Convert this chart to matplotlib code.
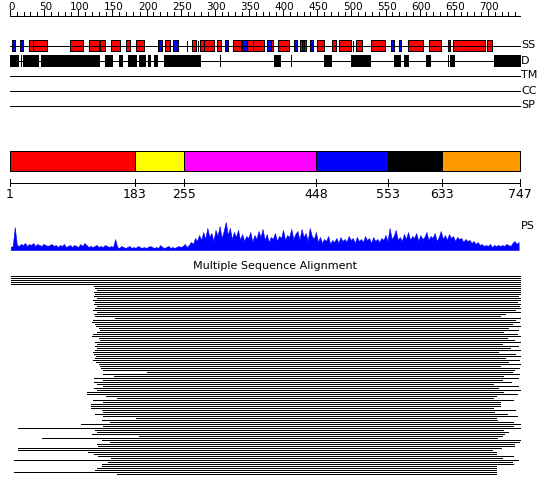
import matplotlib
matplotlib.use("Agg")
import matplotlib.pyplot as plt
import numpy as np

SEQ_LEN = 747

# ---- secondary structure (residue ranges) ----
helix_start = [28, 34, 88, 116, 132, 148, 170, 185, 227, 267, 278, 284, 303, 326, 347, 356,
               382, 393, 425, 430, 449, 471, 482, 507, 529, 583, 614, 649, 699]
helix_end = [33, 54, 107, 130, 139, 161, 176, 196, 234, 272, 284, 299, 309, 338, 356, 372,
             385, 408, 428, 433, 460, 478, 500, 516, 549, 605, 632, 696, 706]
strand_start = [3, 15, 217, 239, 315, 340, 376, 416, 428, 439, 558, 570, 641]
strand_end = [8, 19, 222, 246, 320, 347, 382, 421, 430, 444, 563, 573, 645]
ss_marks = [259, 276, 503]

# ---- disorder ----
disorder_start = [0, 10, 19, 46, 139, 159, 173, 189, 202, 211, 225, 228, 386, 460, 499, 514,
                  562, 577, 610, 644, 709]
disorder_end = [9, 12, 41, 130, 149, 164, 185, 198, 205, 215, 227, 278, 395, 470, 512, 528,
                571, 583, 615, 651, 747]
disorder_marks = [16, 308, 411, 642]

track_names = ["SS", "D", "TM", "CC", "SP"]

# ---- domain boundaries ----
domain_bounds = [1, 183, 255, 448, 553, 633, 747]
domain_colors = ["#ff0000", "#ffff00", "#ff00ff", "#0000ff", "#000000", "#ff9900"]

# ---- PS profile (sampled every 3 residues) ----
ps_pos = np.arange(1, 748, 3)
ps_vals = [3, 4, 23, 5, 4, 6, 5, 7, 4, 6,
           5, 7, 4, 6, 5, 4, 6, 5, 4, 5,
           6, 4, 5, 3, 5, 4, 6, 3, 4, 5,
           3, 5, 4, 3, 6, 4, 7, 5, 3, 4,
           3, 4, 5, 3, 4, 3, 5, 4, 3, 4,
           3, 11, 3, 2, 4, 3, 2, 3, 4, 2,
           3, 2, 4, 3, 2, 3, 2, 3, 4, 3,
           2, 3, 2, 5, 3, 2, 3, 4, 2, 3,
           2, 3, 4, 3, 4, 6, 3, 5, 8, 6,
           12, 9, 15, 10, 18, 11, 22, 13, 17, 9,
           20, 14, 24, 12, 19, 28, 15, 22, 11, 18,
           13, 20, 10, 16, 9, 14, 12, 18, 8, 15,
           11, 19, 13, 21, 10, 16, 8, 13, 11, 17,
           9, 14, 12, 20, 10, 15, 13, 21, 11, 16,
           19, 10, 21, 13, 17, 9, 22, 14, 11, 18,
           8, 13, 7, 11, 9, 14, 6, 10, 8, 12,
           7, 13, 9, 11, 8, 14, 10, 12, 7, 13,
           9, 11, 8, 14, 10, 12, 7, 13, 9, 11,
           8, 12, 10, 15, 9, 22, 11, 14, 20, 10,
           13, 9, 16, 11, 18, 10, 14, 12, 17, 9,
           15, 11, 13, 18, 10, 14, 12, 17, 9, 13,
           19, 11, 15, 10, 16, 12, 14, 9, 13, 11,
           12, 8, 11, 9, 10, 7, 9, 6, 8, 5,
           6, 4, 5, 4, 6, 3, 5, 4, 5, 4,
           5, 4, 6, 5, 4, 7, 9, 6, 8]

# ---- multiple sequence alignment (start/end residue of each aligned sequence) ----
msa_start = [1, 1, 1, 1, 1,
             123, 125, 128, 123, 125, 123, 127, 122, 125, 123,
             127, 125, 122, 128, 123, 125, 154, 122, 120, 125,
             126, 130, 132, 128, 121, 120, 130, 132, 124, 127,
             125, 127, 124, 122, 123, 126, 124, 122, 126, 130,
             132, 134, 136,
             201, 136, 152, 123, 136, 123, 127, 136, 123, 127,
             113, 113, 141, 157, 122, 136, 119, 119, 119, 135,
             136, 125, 136, 185, 135, 146, 104, 136, 12, 125,
             127, 120, 189, 47, 135, 146, 127, 129, 12, 12,
             114, 123, 129, 148, 6, 144, 135, 135, 127, 125,
             6, 157]
msa_end = [747, 747, 747, 747, 747,
           747, 747, 747, 747, 747, 744, 747, 747, 742, 747,
           745, 747, 740, 747, 725, 718, 747, 740, 745, 736,
           747, 730, 744, 722, 742, 747, 728, 738, 747, 720,
           744, 733, 747, 715, 740, 747, 725, 745, 730, 747,
           718, 745, 738,
           735, 746, 722, 744, 721, 734, 707, 744, 715, 747,
           722, 743, 712, 707, 737, 718, 718, 718, 707, 740,
           709, 728, 743, 712, 713, 737, 747, 737, 747, 722,
           729, 724, 721, 713, 747, 746, 738, 738, 719, 706,
           712, 712, 737, 721, 744, 735, 737, 712, 712, 712,
           712, 712]

# ---------------------------------------------------------------
W, H = 550, 495
K = 510.0 / SEQ_LEN       # pixels per residue
X0 = 10.0                 # pixel of residue 0

fig = plt.figure(figsize=(W / 100, H / 100), dpi=100)


def px_axes(top, bottom):
    a = fig.add_axes([0, 1 - bottom / H, 1, (bottom - top) / H])
    a.set_xlim(-X0 / K, (W - X0) / K)
    a.axis("off")
    return a


ax = px_axes(0, H)
ax.set_ylim(H, 0)
LW = 0.5
font = "DejaVu Sans"
AA = False

# ruler
ax.hlines(15.5, 0, SEQ_LEN, color="black", lw=LW, antialiased=AA)
minor = np.arange(0, 741, 10)
ax.vlines(minor, 12, 15.5, color="black", lw=LW, antialiased=AA)
major = np.arange(0, 701, 50)
ax.vlines(major, 10, 15.5, color="black", lw=LW, antialiased=AA)
for t in major:
    ax.text(t + 2, 6.5, str(t), ha="center", va="center", fontsize=7.5, family=font)

# feature tracks
track_y = [45.5, 60.5, 75.5, 90.5, 105.5]
for name, y in zip(track_names, track_y):
    ax.hlines(y, 0, SEQ_LEN, color="black", lw=LW, antialiased=AA)
    ax.text(SEQ_LEN + 1.5, y, name, ha="left", va="center", fontsize=8, family=font)

hs, he = np.array(helix_start), np.array(helix_end)
ax.barh(track_y[0], he - hs, left=hs, height=10.5, color="#ff0000", edgecolor="black",
        lw=LW, antialiased=AA)
ss_, se_ = np.array(strand_start), np.array(strand_end)
ax.barh(track_y[0], se_ - ss_, left=ss_, height=10.5, color="#0000ff", edgecolor="black",
        lw=LW, antialiased=AA)
ax.vlines(ss_marks, 40.5, 51, color="black", lw=LW, antialiased=AA)

ds, de = np.array(disorder_start), np.array(disorder_end)
ax.barh(track_y[1], de - ds, left=ds, height=11, color="black", edgecolor="black",
        lw=LW, antialiased=AA)
ax.vlines(disorder_marks, 55, 66, color="black", lw=LW, antialiased=AA)

# domain bar
db = np.array(domain_bounds, dtype=float)
db[0] = 0
ax.barh(160.5, np.diff(db), left=db[:-1], height=20, color=domain_colors,
        edgecolor="black", lw=LW, antialiased=AA)
ax.hlines(182.5, 0, SEQ_LEN, color="black", lw=LW, antialiased=AA)
ax.vlines(db, 179, 186, color="black", lw=LW, antialiased=AA)
for b, v in zip(db, domain_bounds):
    ax.text(b, 195, str(v), ha="center", va="center", fontsize=9, family=font)

# PS profile
ax.text(SEQ_LEN + 1.5, 226, "PS", ha="left", va="center", fontsize=8, family=font)
axp = px_axes(218, 250)
axp.set_ylim(0, 32)
axp.fill_between(ps_pos, 0, ps_vals, color="#0000ff", lw=0.4, edgecolor="#0000ff")

# MSA
ax.text((275 - X0) / K, 266, "Multiple Sequence Alignment", ha="center", va="center",
        fontsize=8, family=font)
axm = px_axes(274.5, 474.5)
axm.set_ylim(len(msa_start) - 0.5, -0.5)
axm.hlines(np.arange(len(msa_start)), msa_start, msa_end, color="black", lw=LW,
           antialiased=AA)

fig.savefig("out.png", dpi=100)
